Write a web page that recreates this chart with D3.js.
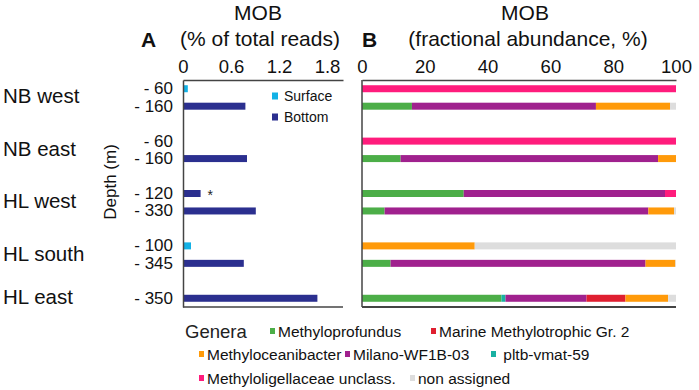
<!DOCTYPE html>
<html>
<head>
<meta charset="utf-8">
<script src="https://cdn.jsdelivr.net/npm/d3@7/dist/d3.min.js"></script>
<style>
  body { margin: 0; background: #fff; }
  svg { display: block; font-family: "Liberation Sans", Arial, sans-serif; }
</style>
</head>
<body>
<div id="chart"></div>
<script>
// ---- data ----
const sites = ["NB west", "NB east", "HL west", "HL south", "HL east"];
const sampleSite = ["NB west", "NB west", "NB east", "NB east", "HL west", "HL west", "HL south", "HL south", "HL east"];
const sampleDepth = ["- 60", "- 160", "- 60", "- 160", "- 120", "- 330", "- 100", "- 345", "- 350"];
const sampleLayer = ["Surface", "Bottom", "Surface", "Bottom", "Bottom", "Bottom", "Surface", "Bottom", "Bottom"];
const mobReads = [0.06, 0.78, 0.01, 0.80, 0.22, 0.91, 0.10, 0.76, 1.68];
const mobTicks = [0, 0.6, 1.2, 1.8];
const abundTicks = [0, 20, 40, 60, 80, 100];

const genera = ["Methyloprofundus", "pltb-vmat-59", "Milano-WF1B-03", "Marine Methylotrophic Gr. 2",
  "Methyloceanibacter", "Methyloligellaceae unclass.", "non assigned"];
const methyloprofundus = [0, 15.9, 0, 12.3, 32.4, 7.2, 0, 9.1, 44.4];
const pltbVmat59 = [0, 0, 0, 0, 0, 0, 0, 0, 1.3];
const milano = [0, 58.6, 0, 82.0, 64.1, 84.0, 0, 81.2, 25.8];
const marineGr2 = [0, 0, 0, 0, 0, 0, 0, 0, 12.4];
const methyloceanibacter = [0, 23.6, 0, 5.7, 0, 8.2, 35.9, 9.5, 13.6];
const methyloligellaceae = [100, 0, 100, 0, 3.5, 0, 0, 0, 0];
const nonAssigned = [0, 1.9, 0, 0, 0, 0.6, 64.1, 0.2, 2.5];

const generaColor = {
  "Methyloprofundus": "#4cae48",
  "pltb-vmat-59": "#19b0a2",
  "Milano-WF1B-03": "#a0218e",
  "Marine Methylotrophic Gr. 2": "#df1f30",
  "Methyloceanibacter": "#ff9a0a",
  "Methyloligellaceae unclass.": "#ff1c7c",
  "non assigned": "#dddddd"
};
const layerColor = { Surface: "#12b1e6", Bottom: "#2b2f8f" };

// ---- setup ----
const width = 699, height = 390;
const svg = d3.select("#chart").append("svg")
  .attr("width", width)
  .attr("height", height);

const samples = sampleDepth.map((d, i) => ({
  key: sampleSite[i] + d,
  site: sampleSite[i],
  depth: d,
  layer: sampleLayer[i],
  reads: mobReads[i],
  "Methyloprofundus": methyloprofundus[i],
  "pltb-vmat-59": pltbVmat59[i],
  "Milano-WF1B-03": milano[i],
  "Marine Methylotrophic Gr. 2": marineGr2[i],
  "Methyloceanibacter": methyloceanibacter[i],
  "Methyloligellaceae unclass.": methyloligellaceae[i],
  "non assigned": nonAssigned[i]
}));

// slots: rows of each site, with an empty slot between sites
const slots = [];
sites.forEach((s, i) => {
  samples.filter(d => d.site === s).forEach(d => slots.push(d.key));
  if (i < sites.length - 1) slots.push("gap" + i);
});

const plotTop = 80, plotBottom = 307;
const y = d3.scaleBand().domain(slots).range([plotTop, plotBottom]);
const barH = 7;
const yc = k => y(k) + y.bandwidth() / 2;

// ---- panel A ----
const xA = d3.scaleLinear().domain([0, 2]).range([183, 343]);

svg.append("g")
  .selectAll("rect")
  .data(samples)
  .join("rect")
  .attr("x", xA(0))
  .attr("y", d => yc(d.key) - barH / 2)
  .attr("width", d => xA(d.reads) - xA(0))
  .attr("height", barH)
  .attr("fill", d => layerColor[d.layer]);

// asterisk next to HL west -120
const star = samples[4];
svg.append("text")
  .attr("x", xA(star.reads) + 7)
  .attr("y", yc(star.key) + 6)
  .attr("font-size", 14)
  .attr("fill", "#222")
  .text("*");

const axA = svg.append("g")
  .attr("transform", `translate(0,${plotTop})`)
  .call(d3.axisTop(xA).tickValues(mobTicks).tickSize(0).tickPadding(7)
    .tickFormat(d => d === 0 ? "0" : d3.format(".1f")(d)));
axA.selectAll("text").attr("font-size", 18.5).attr("fill", "#111").attr("font-family", null);

svg.append("g")
  .attr("transform", `translate(${xA(0)},0)`)
  .call(d3.axisLeft(y).tickValues(samples.map(d => d.key)).tickSize(0).tickPadding(10)
    .tickFormat(k => samples.find(d => d.key === k).depth))
  .call(g => g.selectAll("text").attr("font-size", 17).attr("fill", "#111").attr("font-family", null));

svg.append("line")
  .attr("x1", xA(0)).attr("x2", xA(2))
  .attr("y1", plotBottom).attr("y2", plotBottom)
  .attr("stroke", "#444").attr("stroke-width", 1.5);

svg.selectAll(".domain").attr("stroke", "#444").attr("stroke-width", 1.5);

// site labels
svg.append("g")
  .selectAll("text")
  .data(sites)
  .join("text")
  .attr("x", 3)
  .attr("y", s => d3.mean(samples.filter(d => d.site === s), d => yc(d.key)) + 6)
  .attr("font-size", 20.5)
  .attr("fill", "#111")
  .text(s => s);

svg.append("text")
  .attr("transform", `translate(116,182) rotate(-90)`)
  .attr("text-anchor", "middle")
  .attr("font-size", 17)
  .attr("fill", "#111")
  .text("Depth (m)");

// legend A
const legA = svg.append("g")
  .selectAll("g")
  .data(["Surface", "Bottom"])
  .join("g")
  .attr("transform", (d, i) => `translate(272,${96 + i * 21})`);
legA.append("rect")
  .attr("x", 0).attr("y", -3.5)
  .attr("width", 6).attr("height", 7)
  .attr("fill", d => layerColor[d]);
legA.append("text")
  .attr("x", 12).attr("y", 5)
  .attr("font-size", 14)
  .attr("fill", "#111")
  .text(d => d);

// titles A
svg.append("text").attr("x", 258).attr("y", 20).attr("text-anchor", "middle")
  .attr("font-size", 21).attr("fill", "#111").text("MOB");
svg.append("text").attr("x", 260).attr("y", 46).attr("text-anchor", "middle")
  .attr("font-size", 21).attr("fill", "#111").text("(% of total reads)");
svg.append("text").attr("x", 141).attr("y", 47)
  .attr("font-size", 21).attr("font-weight", "bold").attr("fill", "#111").text("A");

// ---- panel B ----
const xB = d3.scaleLinear().domain([0, 100]).range([362, 676]);
const stacked = d3.stack().keys(genera)(samples);

svg.append("g")
  .selectAll("g")
  .data(stacked)
  .join("g")
  .attr("fill", s => generaColor[s.key])
  .selectAll("rect")
  .data(s => s)
  .join("rect")
  .attr("x", d => xB(d[0]))
  .attr("y", d => yc(d.data.key) - barH / 2)
  .attr("width", d => Math.max(0, xB(d[1]) - xB(d[0])))
  .attr("height", barH);

const axB = svg.append("g")
  .attr("transform", `translate(0,${plotTop})`)
  .call(d3.axisTop(xB).tickValues(abundTicks).tickSize(0).tickPadding(7));
axB.selectAll("text").attr("font-size", 18.5).attr("fill", "#111").attr("font-family", null);
axB.select(".domain").attr("stroke", "#444").attr("stroke-width", 1.5);

svg.append("line")
  .attr("x1", xB(0)).attr("x2", xB(0))
  .attr("y1", plotTop).attr("y2", plotBottom)
  .attr("stroke", "#444").attr("stroke-width", 1.5);
svg.append("line")
  .attr("x1", xB(0)).attr("x2", xB(100))
  .attr("y1", plotBottom).attr("y2", plotBottom)
  .attr("stroke", "#444").attr("stroke-width", 2);

svg.append("text").attr("x", 525).attr("y", 20).attr("text-anchor", "middle")
  .attr("font-size", 21).attr("fill", "#111").text("MOB");
svg.append("text").attr("x", 528).attr("y", 46).attr("text-anchor", "middle")
  .attr("font-size", 21).attr("fill", "#111").text("(fractional abundance, %)");
svg.append("text").attr("x", 362).attr("y", 47)
  .attr("font-size", 21).attr("font-weight", "bold").attr("fill", "#111").text("B");

// ---- genera legend ----
svg.append("text").attr("x", 185).attr("y", 338)
  .attr("font-size", 18.5).attr("fill", "#222").text("Genera");

const legendSlots = [
  { name: "Methyloprofundus", x: 270, y: 331 },
  { name: "Marine Methylotrophic Gr. 2", x: 431, y: 331 },
  { name: "Methyloceanibacter", x: 199, y: 354 },
  { name: "Milano-WF1B-03", x: 345, y: 354 },
  { name: "pltb-vmat-59", x: 491, y: 354 },
  { name: "Methyloligellaceae unclass.", x: 199, y: 378 },
  { name: "non assigned", x: 410, y: 378 }
];
const legB = svg.append("g")
  .selectAll("g")
  .data(legendSlots)
  .join("g")
  .attr("transform", d => `translate(${d.x},${d.y})`);
legB.append("rect")
  .attr("x", 0).attr("y", -3)
  .attr("width", 5).attr("height", 6)
  .attr("fill", d => generaColor[d.name]);
legB.append("text")
  .attr("x", 8).attr("y", 6)
  .attr("font-size", 15.5)
  .attr("fill", "#111")
  .text(d => d.name === "pltb-vmat-59" ? "\u00a0" + d.name : d.name);
</script>
</body>
</html>
